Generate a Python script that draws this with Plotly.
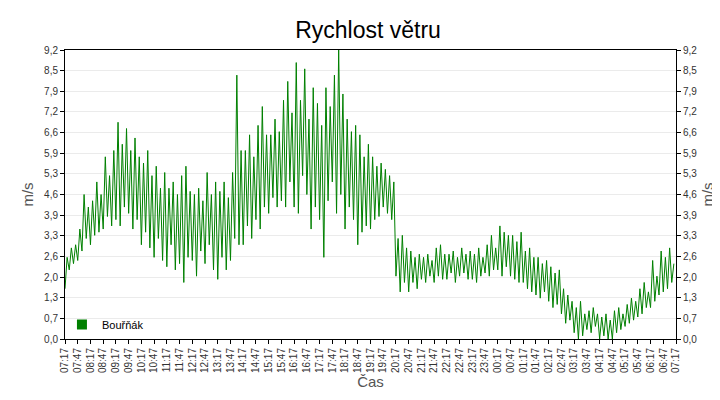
import pandas as pd
import plotly.graph_objects as go

# rychlost vetru - minima a maxima po 10 minutach
lows = [1.6,2.2,2.4, 2.5,2.8,3.2, 3.0,3.3,3.4, 3.5,3.9,3.6, 3.8,3.6,4.2, 4.0,3.5,3.8,
        3.0,3.4,2.9, 2.6,3.2,2.5, 2.3,3.0,2.2, 2.4,1.8,2.6, 2.5,2.0,2.8, 2.4,3.0,2.2,
        1.9,2.6,2.2, 2.5,3.2,3.0, 3.0,3.6,3.2, 3.8,3.5,4.2, 4.0,4.5,4.2, 4.4,4.2,5.0,
        4.2,4.0,5.2, 4.6,3.5,4.2, 3.8,2.6,4.4, 5.0,4.0,4.6, 3.5,4.2,3.8, 3.0,3.4,3.6,
        3.5,3.8,3.9, 4.2,4.0,3.8, 2.0,1.5,1.8, 1.5,1.8,1.6, 1.9,1.8,2.0, 1.8,2.0,1.9,
        1.9,2.1,1.8, 2.0,2.1,1.9, 1.9,1.8,2.0, 2.1,2.0,2.2, 2.2,2.0,2.3, 2.0,1.9,1.8,
        1.8,1.6,1.5, 1.4,1.3,1.5, 1.2,1.0,1.1, 0.8,0.5,0.6, 0.2,0.0,0.1, 0.3,0.2,0.4,
        0.0,0.1,0.0, 0.0,0.2,0.3, 0.4,0.5,0.6, 0.7,0.8,1.0, 1.0,1.2,1.4, 1.5,1.6,1.8]
highs = [2.6,2.9,3.0, 3.5,4.6,4.2, 4.4,5.0,4.6, 5.8,5.2,6.0, 6.9,6.2,6.7, 6.0,6.4,5.8,
         5.6,6.0,5.2, 5.5,4.8,5.3, 4.8,5.0,4.6, 5.2,5.5,4.7, 4.6,4.8,4.4, 5.3,4.6,5.0,
         4.7,5.0,4.5, 5.3,8.4,6.0, 6.0,6.5,5.8, 6.8,7.4,6.5, 6.5,7.0,6.6, 7.6,8.2,7.2,
         8.8,7.6,8.6, 7.0,8.0,7.5, 6.8,8.0,7.4, 8.4,9.2,7.8, 7.0,6.6,6.8, 6.5,5.8,6.2,
         5.8,5.5,5.6, 5.4,5.2,5.0, 3.2,3.3,2.9, 2.8,2.6,2.7, 2.6,2.7,2.5, 2.9,3.0,2.7,
         2.7,2.8,2.6, 2.9,2.7,2.8, 2.7,2.9,2.6, 3.0,3.3,2.9, 3.6,3.4,3.3, 3.3,3.1,3.4,
         2.8,2.9,2.6, 2.6,2.4,2.5, 2.3,2.1,2.2, 1.6,1.4,1.2, 1.0,1.2,0.8, 0.9,1.0,0.8,
         0.7,0.8,0.6, 0.9,1.0,0.8, 1.1,1.3,1.2, 1.6,1.8,1.5, 2.5,2.0,2.8, 2.6,2.9,2.4]

start = pd.Timestamp("2023-01-01 07:17")
times = []
values = []
for i in range(len(lows)):
    t = start + pd.Timedelta(minutes=10 * i)
    times += [t, t + pd.Timedelta(minutes=5)]
    values += [lows[i], highs[i]]

ytick_vals = [9.2 * k / 14 for k in range(15)]
ytick_text = [f"{v:.1f}".replace(".", ",") for v in ytick_vals]
xtick_vals = pd.date_range(start, periods=49, freq="30min")

fig = go.Figure()
fig.add_trace(go.Scatter(x=times, y=values, mode="lines", line=dict(color="#008000", width=1),
                         showlegend=False))
fig.add_trace(go.Scatter(x=[times[0]], y=[None], mode="markers", name="Bouřňák",
                         marker=dict(symbol="square", size=10, color="#008000")))
fig.add_trace(go.Scatter(x=[times[0]], y=[None], yaxis="y2", showlegend=False))

axis_y = dict(range=[0, 9.2], tickvals=ytick_vals, ticktext=ytick_text, showgrid=True,
              gridcolor="#ebebeb", ticks="outside", ticklen=4, tickcolor="black", automargin=False,
              title=dict(text="m/s", font=dict(size=15, color="#555555"), standoff=6),
              tickfont=dict(size=10, color="#333333"), showline=True, linecolor="black", zeroline=False)

fig.update_layout(
    width=720, height=400,
    margin=dict(l=57, r=52, t=42, b=69),
    paper_bgcolor="white", plot_bgcolor="white",
    font=dict(family="Liberation Sans"),
    title=dict(text="Rychlost větru", x=0.5, xanchor="center", y=0.945, yanchor="middle",
               font=dict(size=23, color="black")),
    xaxis=dict(range=[start, xtick_vals[-1]], tickvals=xtick_vals, tickformat="%H:%M", tickangle=-90,
               ticks="outside", ticklen=4, tickcolor="black", showgrid=False, showline=True,
               linecolor="black", mirror=True, tickfont=dict(size=10, color="#333333"), automargin=False,
               title=dict(text="Čas", font=dict(size=15, color="#555555"), standoff=4)),
    yaxis=axis_y,
    yaxis2=dict(axis_y, overlaying="y", side="right", showgrid=False),
    legend=dict(x=-0.005, y=0.0, xanchor="left", yanchor="bottom", bgcolor="rgba(0,0,0,0)",
                itemwidth=30, font=dict(size=11, color="black")),
)

fig.write_html("out.html")
